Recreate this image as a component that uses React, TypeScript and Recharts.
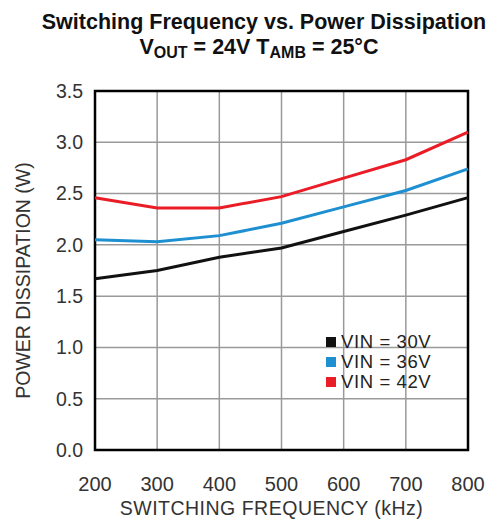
import { LineChart, Line, XAxis, YAxis, CartesianGrid, Legend, ReferenceArea } from 'recharts';

const freqs = [200, 300, 400, 500, 600, 700, 800];
const vin30 = [1.67, 1.75, 1.88, 1.97, 2.13, 2.29, 2.46];
const vin36 = [2.05, 2.03, 2.09, 2.21, 2.37, 2.53, 2.74];
const vin42 = [2.46, 2.36, 2.36, 2.47, 2.65, 2.83, 3.1];
const xTicks = [200, 300, 400, 500, 600, 700, 800];
const yTicks = [0, 0.5, 1.0, 1.5, 2.0, 2.5, 3.0, 3.5];

const series = [
  { key: 'vin30', name: 'VIN = 30V', color: '#111111' },
  { key: 'vin36', name: 'VIN = 36V', color: '#1e8fd0' },
  { key: 'vin42', name: 'VIN = 42V', color: '#ea1c26' },
];

const data = freqs.map((f, i) => ({ f, vin30: vin30[i], vin36: vin36[i], vin42: vin42[i] }));

const font = 'Arial, "Liberation Sans", Helvetica, sans-serif';

function LegendBox() {
  return (
    <div style={{ fontFamily: font, fontSize: 18.5, lineHeight: '20px', letterSpacing: 0.6, color: '#222' }}>
      {series.map((s) => (
        <div key={s.key} style={{ display: 'flex', alignItems: 'center', height: 20 }}>
          <span style={{ width: 10, height: 10, background: s.color, marginRight: 5, display: 'inline-block' }} />
          {s.name}
        </div>
      ))}
    </div>
  );
}

export default function App() {
  return (
    <div style={{ position: 'fixed', left: 0, top: 0, width: 500, height: 523, background: '#fff' }}>
      <div
        style={{
          position: 'absolute',
          left: 0,
          top: 10,
          width: 528,
          textAlign: 'center',
          fontFamily: font,
          fontWeight: 'bold',
          fontSize: 21.5,
          lineHeight: '25px',
          color: '#111',
        }}
      >
        <div>Switching Frequency vs. Power Dissipation</div>
        <div style={{ marginLeft: -10 }}>
          V<sub style={{ fontSize: 16, verticalAlign: '-4px' }}>OUT</sub> = 24V T
          <sub style={{ fontSize: 16, verticalAlign: '-4px' }}>AMB</sub> = 25°C
        </div>
      </div>
      <LineChart width={500} height={523} data={data} margin={{ top: 91, right: 32, bottom: 0, left: 35 }}>
        <CartesianGrid stroke="#9a9a9a" strokeWidth={1.5} />
        <XAxis
          dataKey="f"
          type="number"
          domain={[200, 800]}
          ticks={xTicks}
          height={73}
          tickSize={0}
          tickMargin={27}
          axisLine={false}
          tick={{ fontFamily: font, fontSize: 20, fill: '#333' }}
          label={{
            content: ({ viewBox }: any) => (
              <text
                x={viewBox.x + viewBox.width / 2 - 10}
                y={viewBox.y + 65}
                textAnchor="middle"
                fontFamily={font}
                fontSize={19.5}
                letterSpacing={0.5}
                fill="#333"
              >
                SWITCHING FREQUENCY (kHz)
              </text>
            ),
          }}
        />
        <YAxis
          type="number"
          domain={[0, 3.5]}
          ticks={yTicks}
          width={60}
          tickSize={0}
          tickMargin={12}
          axisLine={false}
          tickFormatter={(v: number) => v.toFixed(1)}
          tick={{ fontFamily: font, fontSize: 19.5, fill: '#333' }}
          label={{
            content: ({ viewBox }: any) => (
              <text
                x={23}
                y={viewBox.y + viewBox.height / 2 + 10}
                transform={`rotate(-90 23 ${viewBox.y + viewBox.height / 2 + 10})`}
                textAnchor="middle"
                dominantBaseline="central"
                fontFamily={font}
                fontSize={19.5}
                fill="#333"
              >
                POWER DISSIPATION (W)
              </text>
            ),
          }}
        />
        <ReferenceArea x1={200} x2={800} y1={0} y2={3.5} fill="none" stroke="#000" strokeWidth={2.5} ifOverflow="extendDomain" />
        {series.map((s) => (
          <Line
            key={s.key}
            dataKey={s.key}
            name={s.name}
            stroke={s.color}
            strokeWidth={3}
            dot={false}
            type="linear"
            isAnimationActive={false}
          />
        ))}
        <Legend
          layout="horizontal"
          verticalAlign="middle"
          align="center"
          content={() => <LegendBox />}
          wrapperStyle={{ position: 'absolute', left: 326, top: 332, width: 'auto' }}
        />
      </LineChart>
    </div>
  );
}
